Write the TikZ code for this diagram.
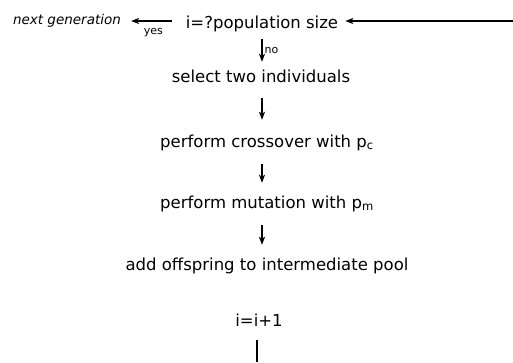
\documentclass[tikz,border=0pt]{standalone}
\usepackage{fontspec}
\setmainfont{DejaVu Sans}
\usetikzlibrary{arrows.meta}
\tikzset{
  flow/.style={-{Stealth[length=8pt,width=6pt,inset=2pt]}, line width=1.3pt},
  lbl/.style={font=\fontsize{16.5}{19}\selectfont, anchor=base, inner sep=0pt,
    text height=13pt, text depth=4pt},
  tag/.style={font=\fontsize{11}{12}\selectfont, inner sep=0pt}
}
\begin{document}
\begin{tikzpicture}[x=1pt,y=-1pt]
\useasboundingbox (0,0) rectangle (513,362);
\coordinate (spine) at (262,0);
\coordinate (loopin) at (513,21);
\coordinate (loopout) at (257,362);
% the steps, top to bottom
\node[lbl] (test) at (262,28) {i=?population size};
\node[lbl, font=\fontsize{13.5}{16}\itshape] (next) at (67,24) {next generation};
\node[lbl] (select) at (261,82) {select two individuals};
\node[lbl] (cross) at (267,147) {perform crossover with p\textsubscript{c}};
\node[lbl] (mutate) at (267,208) {perform mutation with p\textsubscript{m}};
\node[lbl] (add) at (267,270) {add offspring to intermediate pool};
\node[lbl] (incr) at (259,326) {i=i+1};
% connectors
\draw[flow] (loopin) -- (loopin -| test.east) [shorten >=7pt];
\draw[flow, shorten <=14pt, shorten >=10pt] (test.west |- loopin) -- (next.east |- loopin)
  node[tag, midway, below=7pt] {yes};
\draw[flow, shorten <=7pt, shorten >=7pt] (spine |- test.south) -- (spine |- select.north)
  node[tag, midway, right=2pt] {no};
\draw[flow, shorten <=12pt, shorten >=14pt] (spine |- select.south) -- (spine |- cross.north);
\draw[flow, shorten <=13pt, shorten >=12pt] (spine |- cross.south) -- (spine |- mutate.north);
\draw[flow, shorten <=13pt, shorten >=12pt] (spine |- mutate.south) -- (spine |- add.north);
\draw[line width=1.3pt, shorten <=10pt] (loopout |- incr.south) -- (loopout);
\end{tikzpicture}
\end{document}
